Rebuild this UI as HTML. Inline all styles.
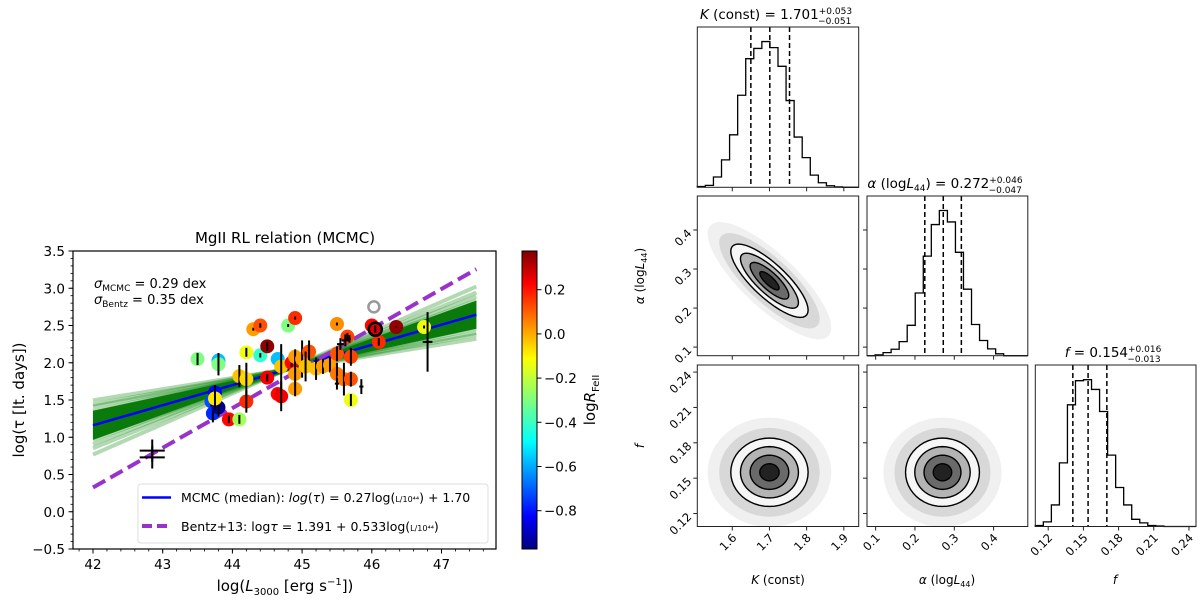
<!DOCTYPE html>
<html><head><meta charset="utf-8"><style>
body{margin:0;background:#fff;}
svg{display:block;font-family:"DejaVu Sans","Liberation Sans",sans-serif;}
</style></head><body>
<svg id="root" width="1200" height="600" viewBox="0 0 1200 600" xmlns="http://www.w3.org/2000/svg">
<defs>
<linearGradient id="jet" x1="0" y1="1" x2="0" y2="0">
<stop offset="0" stop-color="#00007f"/><stop offset="0.11" stop-color="#0000ff"/><stop offset="0.36" stop-color="#00ffff"/><stop offset="0.5" stop-color="#7fff7f"/><stop offset="0.64" stop-color="#ffff00"/><stop offset="0.89" stop-color="#ff0000"/><stop offset="1" stop-color="#7f0000"/>
</linearGradient>
<clipPath id="lclip"><rect x="73" y="251" width="423" height="298"/></clipPath>
</defs>
<g id="left"></g>
<g id="corner"></g>
</svg>
<script>
// ---- Left chart data ----
const lumX = [43.5,43.8,43.8,44.2,44.3,44.4,44.4,44.5,44.65,44.8,44.9,44.1,44.2,44.5,44.2,43.75,43.7,43.72,43.8,43.75,43.95,44.1,44.65,44.7,44.7,44.85,44.9,44.9,44.9,45.0,45.1,45.05,45.2,45.3,45.4,45.5,45.5,45.6,45.7,45.7,45.7,45.5,45.65,46.0,46.05,46.1,46.35,46.75];
const tauY = [2.05,2.03,1.98,2.14,2.45,2.50,2.10,2.22,2.05,2.50,2.60,1.82,1.78,1.80,1.48,1.60,1.48,1.32,1.40,1.52,1.24,1.24,1.58,1.55,1.95,2.0,1.85,2.08,1.65,2.05,2.15,1.95,1.92,1.95,1.97,1.85,2.12,1.78,2.08,1.78,1.50,2.52,2.35,2.50,2.45,2.28,2.48,2.48];
const rFe = [-0.3,-0.55,-0.3,-0.15,0.0,0.1,-0.4,0.35,-0.55,-0.3,0.15,-0.05,-0.08,0.22,0.15,-0.8,-0.7,-0.75,-0.95,-0.1,0.2,-0.25,0.2,0.22,-0.05,0.2,0.0,0.0,0.0,0.0,0.1,-0.05,-0.05,0.0,0.0,0.05,0.1,0.05,0.12,0.1,-0.15,0.02,0.12,0.2,0.25,0.15,0.35,-0.15];
const tauErr = [0.08,0,0.15,0.06,0.02,0.03,0.03,0.06,0,0.02,0.02,0.15,0.22,0.05,0.15,0.1,0.15,0.12,0.12,0.15,0.05,0.06,0.06,0.2,0.3,0.06,0.25,0.1,0.1,0.25,0.15,0.2,0.15,0.1,0.1,0.15,0.1,0.22,0.12,0.1,0.08,0.02,0.05,0.02,0.05,0.05,0.01,0.02];
const crossX = [42.85,42.85,46.8,45.5,45.85,45.55,45.62,45.68];
const crossY = [0.82,0.73,2.28,1.72,1.68,2.25,2.3,2.32];
const crossXErr = [0.18,0.18,0.07,0.03,0.03,0.05,0.05,0.02];
const crossYErr = [0.15,0.15,0.4,0.08,0.1,0.08,0.08,0.05];
const sampleAlpha = [0.15,0.17,0.18,0.20,0.21,0.22,0.23,0.24,0.25,0.26,0.27,0.27,0.28,0.29,0.30,0.31,0.32,0.33,0.34,0.36,0.38,0.41];
const sampleK = [1.796,1.78,1.772,1.756,1.748,1.74,1.732,1.724,1.716,1.708,1.70,1.70,1.692,1.684,1.676,1.668,1.66,1.652,1.644,1.628,1.612,1.588];
const medianK = 1.70, medianAlpha = 0.27;
const bentzK = 1.391, bentzAlpha = 0.533;
const xTicks = [42,43,44,45,46,47];
const yTicks = [-0.5,0.0,0.5,1.0,1.5,2.0,2.5,3.0,3.5];
const cbTicks = [0.2,0.0,-0.2,-0.4,-0.6,-0.8];
// ---- Corner data ----
const kHist = [2,5,27,72,138,242,338,365,383,367,318,228,132,78,32,12,4,1,0,0];
const aHist = [0,2,8,17,37,80,165,262,345,382,352,272,175,82,40,18,5,0,0,0];
const fHist = [2,9,42,124,237,284,286,267,224,139,76,42,14,7,2,1,0,0,0,0];
const kQuant = [1.650,1.701,1.754];
const aQuant = [0.225,0.272,0.318];
const fQuant = [0.141,0.154,0.170];
const kTicks = [1.6,1.7,1.8,1.9];
const aTicks = [0.1,0.2,0.3,0.4];
const fTicks = [0.12,0.15,0.18,0.21,0.24];
const kMean=1.70, aMean=0.27, fMean=0.155, kSd=0.052, aSd=0.047, fSd=0.0145;
const rhoKA=-0.8, rhoKF=0.0, rhoAF=0.0;
const levels=[0.5,1,1.5,2];

const NS="http://www.w3.org/2000/svg";
function mk(tag,attrs,parent,txt){const e=document.createElementNS(NS,tag);for(const k in attrs)e.setAttribute(k,attrs[k]);if(txt!==undefined)e.textContent=txt;parent.appendChild(e);return e;}
function fmt(v,d){return v<0?'\u2212'+Math.abs(v).toFixed(d):v.toFixed(d);}
function jet(v){const t=Math.max(0,Math.min(1,(v+0.972)/(0.375+0.972)));const c=x=>Math.round(255*Math.max(0,Math.min(1,1.5-Math.abs(4*t-x))));return `rgb(${c(3)},${c(2)},${c(1)})`;}

const L=document.getElementById('left');
const xL=v=>93+(v-42)*69.7, yL=v=>251+(3.5-v)*74.5;
let t=mk('text',{x:285,y:243,'text-anchor':'middle','font-size':15},L,'MgII RL relation (MCMC)');

const pg=mk('g',{'clip-path':'url(#lclip)'},L);

const lineY=(K,a,x)=>K+a*(x-44);
for(let i=0;i<sampleK.length;i++){const l=mk('line',{x1:xL(42),y1:yL(lineY(sampleK[i],sampleAlpha[i],42)),x2:xL(47.5),y2:yL(lineY(sampleK[i],sampleAlpha[i],47.5)),stroke:'#008000','stroke-width':4,'stroke-opacity':0.3},pg);
}
const core=mk('polygon',{points:`${xL(42)},${yL(lineY(1.756,0.20,42))} ${xL(47.5)},${yL(lineY(1.756,0.20,47.5))} ${xL(47.5)},${yL(lineY(1.644,0.34,47.5))} ${xL(42)},${yL(lineY(1.644,0.34,42))}`,fill:'#0a7a0a'},pg);

let m=mk('line',{x1:xL(42),y1:yL(lineY(medianK,medianAlpha,42)),x2:xL(47.5),y2:yL(lineY(medianK,medianAlpha,47.5)),stroke:'#0000ff','stroke-width':2.5},pg);

m=mk('line',{x1:xL(42),y1:yL(lineY(bentzK,bentzAlpha,42)),x2:xL(47.5),y2:yL(lineY(bentzK,bentzAlpha,47.5)),stroke:'#9932cc','stroke-width':4,'stroke-dasharray':'14,6'},pg);

for(let i=0;i<lumX.length;i++){const c=mk('circle',{cx:xL(lumX[i]),cy:yL(tauY[i]),r:7,fill:jet(rFe[i])},pg);

if(tauErr[i]>0){const e=mk('line',{x1:xL(lumX[i]),x2:xL(lumX[i]),y1:yL(tauY[i]+tauErr[i]),y2:yL(tauY[i]-tauErr[i]),stroke:'#000','stroke-width':2},pg);
}}
let rg=mk('circle',{cx:xL(46.05),cy:yL(2.45),r:6.5,fill:'none',stroke:'#000','stroke-width':2.5},pg);

rg=mk('circle',{cx:xL(46.03),cy:yL(2.75),r:5.5,fill:'none',stroke:'#999','stroke-width':2.5},pg);

for(let i=0;i<crossX.length;i++){const g=mk('g',{stroke:'#000','stroke-width':2},pg);

mk('line',{x1:xL(crossX[i]-crossXErr[i]),x2:xL(crossX[i]+crossXErr[i]),y1:yL(crossY[i]),y2:yL(crossY[i])},g);
mk('line',{x1:xL(crossX[i]),x2:xL(crossX[i]),y1:yL(crossY[i]+crossYErr[i]),y2:yL(crossY[i]-crossYErr[i])},g);}
let fr=mk('rect',{x:73,y:251,width:423,height:298,fill:'none',stroke:'#000','stroke-width':1.2},L);

for(const v of xTicks){mk('line',{x1:xL(v),x2:xL(v),y1:549,y2:553.5,stroke:'#000'},L);
const tx=mk('text',{x:xL(v),y:569,'text-anchor':'middle','font-size':13.5},L,String(v));}
for(let v=41.8;v<47.8;v+=0.2){mk('line',{x1:xL(v),x2:xL(v),y1:549,y2:551.5,stroke:'#000','stroke-width':0.8},L);}
for(const v of yTicks){mk('line',{x1:68.5,x2:73,y1:yL(v),y2:yL(v),stroke:'#000'},L);
const tx=mk('text',{x:65,y:yL(v)+5,'text-anchor':'end','font-size':13.5},L,fmt(v,1));}
for(let v=-0.5;v<3.5;v+=0.1){mk('line',{x1:70.5,x2:73,y1:yL(v),y2:yL(v),stroke:'#000','stroke-width':0.8},L);}
t=mk('text',{x:285,y:591,'text-anchor':'middle','font-size':15},L);t.innerHTML='log(<tspan font-style="italic">L</tspan><tspan font-size="10" dy="4">3000</tspan><tspan dy="-4"> [erg s</tspan><tspan font-size="10" dy="-6">−1</tspan><tspan dy="6">])</tspan>';

t=mk('text',{x:0,y:0,'text-anchor':'middle','font-size':15,transform:'translate(24,400) rotate(-90)'},L,'log(τ [lt. days])');

t=mk('text',{x:94,y:288,'font-size':13},L);t.innerHTML='<tspan font-style="italic">σ</tspan><tspan font-size="9" dy="3">MCMC</tspan><tspan dy="-3"> = 0.29 dex</tspan>';

t=mk('text',{x:94,y:304,'font-size':13},L);t.innerHTML='<tspan font-style="italic">σ</tspan><tspan font-size="9" dy="3">Bentz</tspan><tspan dy="-3"> = 0.35 dex</tspan>';

const lg=mk('g',{},L);
mk('rect',{x:138,y:484,width:350,height:59,rx:3,fill:'#fff','fill-opacity':0.85,stroke:'#ddd'},lg);
mk('line',{x1:142,x2:171,y1:497.5,y2:497.5,stroke:'#0000ff','stroke-width':2.5},lg);
mk('line',{x1:142,x2:171,y1:526,y2:526,stroke:'#9932cc','stroke-width':4,'stroke-dasharray':'10,5'},lg);
t=mk('text',{x:181,y:502,'font-size':12.5},lg);t.innerHTML='MCMC (median): <tspan font-style="italic">log</tspan>(<tspan font-style="italic">τ</tspan>) = 0.27log(<tspan font-size="8">L/10⁴⁴</tspan>) + 1.70';

t=mk('text',{x:181,y:531,'font-size':12.5},lg);t.innerHTML='Bentz+13: log<tspan font-style="italic">τ</tspan> = 1.391 + 0.533log(<tspan font-size="8">L/10⁴⁴</tspan>)';

const cb=v=>289.7+(0.2-v)*221;
let cr=mk('rect',{x:522,y:251,width:15,height:298,fill:'url(#jet)',stroke:'#000','stroke-width':1},L);

for(const v of cbTicks){mk('line',{x1:537,x2:541.5,y1:cb(v),y2:cb(v),stroke:'#000'},L);
const tx=mk('text',{x:544,y:cb(v)+5,'font-size':13.5},L,fmt(v,1));}
t=mk('text',{x:0,y:0,'text-anchor':'middle','font-size':15,transform:'translate(595,400) rotate(-90)'},L);t.innerHTML='log<tspan font-style="italic">R</tspan><tspan font-size="10" dy="4">FeII</tspan>';


// ---- Corner ----
const C=document.getElementById('corner');
const col=[[697.3,858.7],[867,1027.8],[1035.3,1196]];
const row=[[27,187.3],[196,355.7],[365,526.5]];
const rng={K:[1.506,1.94],a:[0.078,0.487],f:[0.109,0.246]};
const px=(p,ci,v)=>col[ci][0]+(v-rng[p][0])/(rng[p][1]-rng[p][0])*(col[ci][1]-col[ci][0]);
const py=(p,ri,v)=>row[ri][1]-(v-rng[p][0])/(rng[p][1]-rng[p][0])*(row[ri][1]-row[ri][0]);
function frame(ci,ri,name){const r=mk('rect',{x:col[ci][0],y:row[ri][0],width:col[ci][1]-col[ci][0],height:row[ri][1]-row[ri][0],fill:'none',stroke:'#222','stroke-width':1},C);}
function hist(ci,ri,p,h,q,name){const g=mk('g',{},C);
const n=h.length,w=(rng[p][1]-rng[p][0])/n,H=row[ri][1]-row[ri][0],mx=Math.max(...h)*1.1;
let d=`M${col[ci][0]},${row[ri][1]}`;for(let i=0;i<n;i++){const y=row[ri][1]-h[i]/mx*H;d+=` L${px(p,ci,rng[p][0]+i*w)},${y} L${px(p,ci,rng[p][0]+(i+1)*w)},${y}`;}
mk('path',{d:d,fill:'none',stroke:'#000','stroke-width':1.3},g);
for(const v of q){mk('line',{x1:px(p,ci,v),x2:px(p,ci,v),y1:row[ri][0],y2:row[ri][1],stroke:'#000','stroke-width':1.5,'stroke-dasharray':'5,3'},g);}}
function ell(ci,ri,px_,py_,mx,my,sx,sy,rho,s){const pts=[];for(let k=0;k<48;k++){const th=k/48*2*Math.PI;const u=Math.cos(th),v=Math.sin(th);
const dx=s*sx*u,dy=s*sy*(rho*u+Math.sqrt(1-rho*rho)*v);pts.push(px(px_,ci,mx+dx)+','+py(py_,ri,my+dy));}return pts.join(' ');}
function joint(ci,ri,pxn,pyn,mx,my,sx,sy,rho,name){const g=mk('g',{},C);
mk('polygon',{points:ell(ci,ri,pxn,pyn,mx,my,sx,sy,rho,3.2),fill:'#f0f0f0'},g);
mk('polygon',{points:ell(ci,ri,pxn,pyn,mx,my,sx,sy,rho,2.6),fill:'#d8d8d8'},g);
const fills=['#222','#6a6a6a','#b4b4b4','#f6f6f6'];
for(let i=levels.length-1;i>=0;i--){mk('polygon',{points:ell(ci,ri,pxn,pyn,mx,my,sx,sy,rho,levels[i]),fill:fills[i],stroke:'#000','stroke-width':1.4},g);}}
function xt(ci,p,ticks,ri,labels,name){for(const v of ticks){const x=px(p,ci,v);mk('line',{x1:x,x2:x,y1:row[ri][1],y2:row[ri][1]+4,stroke:'#222'},C);
if(labels){const s=mk('text',{x:0,y:0,'font-size':11.5,'text-anchor':'end',transform:`translate(${x+5},${row[ri][1]+12}) rotate(-45)`},C,String(v));}}}
function yt(ri,p,ticks,labels,name){for(const v of ticks){const y=py(p,ri,v);mk('line',{x1:col[0][0]-4,x2:col[0][0],y1:y,y2:y,stroke:'#222'},C);
mk('line',{x1:col[1][0]-4,x2:col[1][0],y1:y,y2:y,stroke:'#222'},C);
const s=mk('text',{x:0,y:0,'font-size':11.5,'text-anchor':'end',transform:`translate(${col[0][0]-5},${y+4}) rotate(-45)`},C,String(v));}}
hist(0,0,'K',kHist,kQuant,'hist-K');
hist(1,1,'a',aHist,aQuant,'hist-alpha');
hist(2,2,'f',fHist,fQuant,'hist-f');
joint(0,1,'K','a',kMean,aMean,kSd,aSd,rhoKA,'joint-K-alpha');
joint(0,2,'K','f',kMean,fMean,kSd,fSd,rhoKF,'joint-K-f');
joint(1,2,'a','f',aMean,fMean,aSd,fSd,rhoAF,'joint-alpha-f');
frame(0,0,'panel-K-hist');frame(0,1,'panel-K-alpha');frame(1,1,'panel-alpha-hist');frame(0,2,'panel-K-f');frame(1,2,'panel-alpha-f');frame(2,2,'panel-f-hist');
xt(0,'K',kTicks,0,false);xt(0,'K',kTicks,1,false);xt(0,'K',kTicks,2,true,'K-tick-label');
xt(1,'a',aTicks,1,false);xt(1,'a',aTicks,2,true,'alpha-tick-label');
xt(2,'f',fTicks,2,true,'f-tick-label');
yt(1,'a',aTicks,true,'alpha-y-tick-label');yt(2,'f',fTicks,true,'f-y-tick-label');
t=mk('text',{x:776,y:19,'text-anchor':'middle','font-size':13.5},C);t.innerHTML='<tspan font-style="italic">K</tspan> (const) = 1.701<tspan font-size="9" dy="-5">+0.053</tspan><tspan font-size="9" dx="-34" dy="10">−0.051</tspan>';

t=mk('text',{x:945,y:188,'text-anchor':'middle','font-size':13.5},C);t.innerHTML='<tspan font-style="italic">α</tspan> (log<tspan font-style="italic">L</tspan><tspan font-size="9" dy="3">44</tspan><tspan dy="-3">) = 0.272</tspan><tspan font-size="9" dy="-5">+0.046</tspan><tspan font-size="9" dx="-34" dy="10">−0.047</tspan>';

t=mk('text',{x:1113,y:357,'text-anchor':'middle','font-size':13.5},C);t.innerHTML='<tspan font-style="italic">f</tspan> = 0.154<tspan font-size="9" dy="-5">+0.016</tspan><tspan font-size="9" dx="-34" dy="10">−0.013</tspan>';

t=mk('text',{x:778,y:584,'text-anchor':'middle','font-size':12},C);t.innerHTML='<tspan font-style="italic">K</tspan> (const)';

t=mk('text',{x:947,y:584,'text-anchor':'middle','font-size':12},C);t.innerHTML='<tspan font-style="italic">α</tspan> (log<tspan font-style="italic">L</tspan><tspan font-size="8" dy="3">44</tspan><tspan dy="-3">)</tspan>';

t=mk('text',{x:1115,y:584,'text-anchor':'middle','font-size':12,'font-style':'italic'},C,'f');

t=mk('text',{x:0,y:0,'text-anchor':'middle','font-size':12,transform:'translate(644,276) rotate(-90)'},C);t.innerHTML='<tspan font-style="italic">α</tspan> (log<tspan font-style="italic">L</tspan><tspan font-size="8" dy="3">44</tspan><tspan dy="-3">)</tspan>';

t=mk('text',{x:0,y:0,'text-anchor':'middle','font-size':12,'font-style':'italic',transform:'translate(644,446) rotate(-90)'},C,'f');

</script>
</body></html>
